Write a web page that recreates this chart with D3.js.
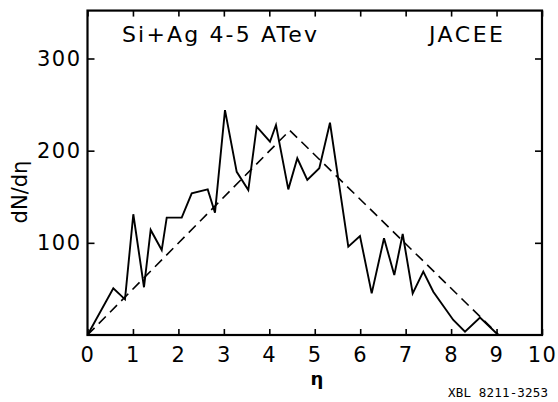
<!DOCTYPE html>
<html>
<head>
<meta charset="utf-8">
<script src="https://cdn.jsdelivr.net/npm/d3@7"></script>
<style>
  html, body { margin: 0; padding: 0; background: #fff; }
  svg { display: block; }
</style>
</head>
<body>
<script>
// ---- data ----
const etaMeasured = [0, 0.568, 0.825, 1.008, 1.243, 1.39, 1.633, 1.743, 2.073, 2.293, 2.645, 2.805,
  3.025, 3.283, 3.538, 3.723, 4.015, 4.147, 4.418, 4.616, 4.836, 5.1, 5.335, 5.738, 5.995, 6.253,
  6.524, 6.75, 6.935, 7.155, 7.388, 7.608, 8.048, 8.306, 8.636, 9.038];
const dNdEtaMeasured = [0, 50.7, 38.7, 131, 51.8, 114, 92.2, 127.3, 127.3, 153.7, 158, 132.7,
  244, 177, 157.3, 226, 209.7, 227.8, 158, 191.7, 168.2, 180.9, 230.3, 95.8, 107.4, 45.2,
  105, 65, 109.6, 45.2, 68.7, 47, 16.3, 3.6, 18.8, 0];
const etaModel = [0, 4.45, 9.05];
const dNdEtaModel = [0, 222, 0];
const xTicks = [0, 1, 2, 3, 4, 5, 6, 7, 8, 9, 10];
const yTicks = [100, 200, 300];
const xDomain = [0, 10];
const yDomain = [0, 352];
const titleLeft = "Si+Ag 4-5 ATev";
const titleRight = "JACEE";
const xLabel = "η";
const yLabel = "dN/dη";
const refLabel = "XBL 8211-3253";

// ---- layout ----
const W = 558, H = 402;
const mLeft = 87.5, mRight = 542, mBottom = 335;
const x = d3.scaleLinear().domain(xDomain).range([mLeft, mRight]);
const yPerUnit = (335 - 58.5) / 300;
const y = d3.scaleLinear().domain(yDomain).range([mBottom, mBottom - yPerUnit * yDomain[1]]);
const mTop = y(yDomain[1]);

const svg = d3.select("body").append("svg").attr("width", W).attr("height", H);
svg.append("rect").attr("width", W).attr("height", H).attr("fill", "#fff");

const font = "'DejaVu Sans', sans-serif";

// axes (inward ticks)
const gB = svg.append("g").attr("transform", `translate(0,${mBottom})`)
  .call(d3.axisBottom(x).tickValues(xTicks).tickSize(-6).tickPadding(12).tickFormat(d3.format("d")));
const gT = svg.append("g").attr("transform", `translate(0,${mTop})`)
  .call(d3.axisTop(x).tickValues(xTicks).tickSize(-6).tickFormat(""));
const gL = svg.append("g").attr("transform", `translate(${mLeft},0)`)
  .call(d3.axisLeft(y).tickValues(yTicks).tickSize(-7).tickPadding(6).tickFormat(d3.format("d")));
const gR = svg.append("g").attr("transform", `translate(${mRight},0)`)
  .call(d3.axisRight(y).tickValues(yTicks).tickSize(-7).tickFormat(""));
[gB, gT, gL, gR].forEach(g => {
  g.select(".domain").remove();
  g.selectAll(".tick line").attr("stroke", "#000").attr("stroke-width", 1.6);
  g.selectAll("text").attr("fill", "#000").attr("font-family", font).attr("font-size", 21)
    .style("letter-spacing", "1.5px");
});

// frame
svg.append("rect")
  .attr("x", mLeft).attr("y", mTop)
  .attr("width", mRight - mLeft).attr("height", mBottom - mTop)
  .attr("fill", "none").attr("stroke", "#000").attr("stroke-width", 2.2);

// model (dashed)
const line = d3.line().x(d => x(d[0])).y(d => y(d[1]));
svg.append("path")
  .datum(d3.zip(etaModel, dNdEtaModel))
  .attr("d", line)
  .attr("fill", "none").attr("stroke", "#000").attr("stroke-width", 1.6)
  .attr("stroke-dasharray", "10,6");

// measured (solid)
svg.append("path")
  .datum(d3.zip(etaMeasured, dNdEtaMeasured))
  .attr("d", line)
  .attr("fill", "none").attr("stroke", "#000").attr("stroke-width", 1.9)
  .attr("stroke-linejoin", "miter");

// titles
svg.append("text").text(titleLeft)
  .attr("x", 122).attr("y", 41.5)
  .attr("font-family", font).attr("font-size", 22)
  .attr("textLength", 195).attr("lengthAdjust", "spacing");
svg.append("text").text(titleRight)
  .attr("x", 429).attr("y", 41.5)
  .attr("font-family", font).attr("font-size", 22)
  .attr("textLength", 74).attr("lengthAdjust", "spacing");

// axis labels
svg.append("text").text(xLabel)
  .attr("x", 317).attr("y", 385)
  .attr("text-anchor", "middle")
  .attr("font-family", font).attr("font-size", 18).attr("font-weight", "bold");
svg.append("text").text(yLabel)
  .attr("transform", "translate(27,192) rotate(-90)")
  .attr("text-anchor", "middle")
  .attr("font-family", font).attr("font-size", 21);

// reference code
svg.append("text").text(refLabel)
  .attr("x", 448).attr("y", 397)
  .attr("font-family", "'DejaVu Sans Mono', monospace").attr("font-size", 12.5)
  .attr("textLength", 100).attr("lengthAdjust", "spacing");
</script>
</body>
</html>
